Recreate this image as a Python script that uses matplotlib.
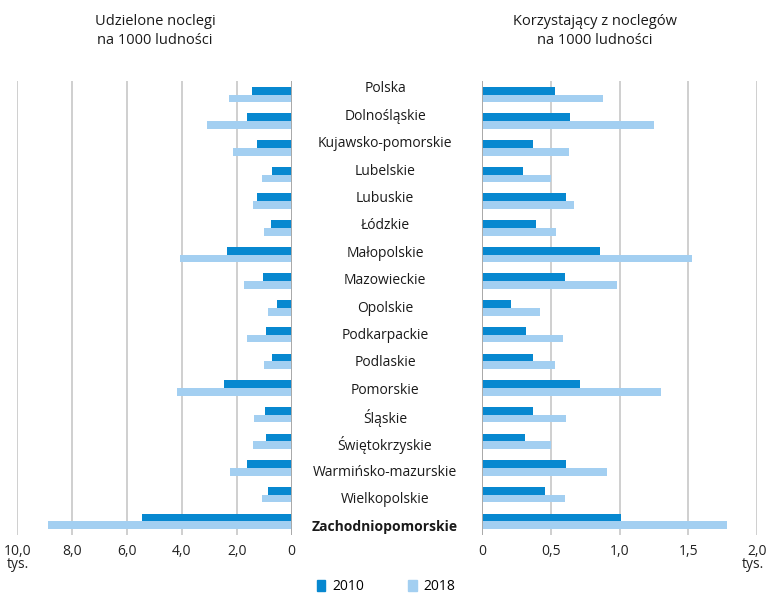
import matplotlib
matplotlib.use("Agg")
import matplotlib.pyplot as plt
from matplotlib.patches import Rectangle

plt.rcParams['font.family'] = ['Open Sans', 'DejaVu Sans']

regions = ["Polska", "Dolnośląskie", "Kujawsko-pomorskie", "Lubelskie", "Lubuskie",
           "Łódzkie", "Małopolskie", "Mazowieckie", "Opolskie", "Podkarpackie",
           "Podlaskie", "Pomorskie", "Śląskie", "Świętokrzyskie",
           "Warmińsko-mazurskie", "Wielkopolskie", "Zachodniopomorskie"]

noclegi_2010 = [1.44, 1.64, 1.25, 0.72, 1.28, 0.75, 2.37, 1.03, 0.52, 0.95,
                0.73, 2.47, 0.97, 0.92, 1.64, 0.86, 5.45]
noclegi_2018 = [2.30, 3.10, 2.13, 1.07, 1.40, 1.02, 4.08, 1.73, 0.87, 1.64,
                1.01, 4.19, 1.37, 1.42, 2.24, 1.07, 8.87]

korzyst_2010 = [0.53, 0.64, 0.37, 0.30, 0.61, 0.39, 0.86, 0.60, 0.21, 0.32,
                0.37, 0.71, 0.37, 0.31, 0.61, 0.46, 1.01]
korzyst_2018 = [0.88, 1.25, 0.63, 0.50, 0.67, 0.54, 1.53, 0.98, 0.42, 0.59,
                0.53, 1.30, 0.61, 0.50, 0.91, 0.60, 1.78]

left_ticks = [10, 8, 6, 4, 2, 0]
left_ticklabels = ["10,0", "8,0", "6,0", "4,0", "2,0", "0"]
right_ticks = [0, 0.5, 1.0, 1.5, 2.0]
right_ticklabels = ["0", "0,5", "1,0", "1,5", "2,0"]
series_labels = ["2010", "2018"]

C_DARK = "#0788d0"
C_LIGHT = "#a3cff1"
GRID = "#cfcfcf"
AXIS = "#a8a8a8"

W, H = 766, 596
fig = plt.figure(figsize=(W / 100, H / 100), dpi=100)

def fx(px):
    return px / W

def fy(py):
    return 1 - py / H

top_px, bot_px = 81.2, 534.6
axL = fig.add_axes([fx(17.3), fy(bot_px), fx(291.7 - 17.3), (bot_px - top_px) / H])
axR = fig.add_axes([fx(482.3), fy(bot_px), fx(756.7 - 482.3), (bot_px - top_px) / H])

y = list(range(len(regions)))
h = 0.29
y_dark = [v - 0.145 for v in y]
y_light = [v + 0.145 for v in y]

for ax, d10, d18, xlim, ticks in [
        (axL, noclegi_2010, noclegi_2018, (10, 0), left_ticks),
        (axR, korzyst_2010, korzyst_2018, (0, 2.0), right_ticks)]:
    for t in ticks:
        if t != 0:
            ax.axvline(t, color=GRID, lw=1.4, zorder=0)
    ax.axvline(0, color=AXIS, lw=1.4, zorder=3)
    ax.barh(y_dark, d10, height=h, color=C_DARK, zorder=2)
    ax.barh(y_light, d18, height=h, color=C_LIGHT, zorder=2)
    ax.set_xlim(*xlim)
    ax.set_ylim(len(regions) - 0.5, -0.5)
    ax.set_yticks([])
    ax.set_xticks([])
    for s in ax.spines.values():
        s.set_visible(False)
    ax.patch.set_alpha(0)

# tick labels
for t, lab in zip(left_ticks, left_ticklabels):
    axL.annotate(lab, xy=(t, 0), xycoords=axL.get_xaxis_transform(),
                 xytext=(0, -12), textcoords="offset points",
                 ha="center", va="center", fontsize=10, color="#222222")
for t, lab in zip(right_ticks, right_ticklabels):
    axR.annotate(lab, xy=(t, 0), xycoords=axR.get_xaxis_transform(),
                 xytext=(0, -12), textcoords="offset points",
                 ha="center", va="center", fontsize=10, color="#222222")
fig.text(fx(7), fy(565), "tys.", ha="left", va="center", fontsize=10, color="#222222")
fig.text(fx(764), fy(565), "tys.", ha="right", va="center", fontsize=10, color="#222222")

# category labels in the middle
axM = fig.add_axes([fx(300), fy(527 + 13.7), fx(470 - 300), (438 + 27.4) / H])
axM.set_xlim(0, 1)
axM.set_ylim(len(regions) - 0.5, -0.5)
axM.axis("off")
for i, r in enumerate(regions):
    bold = (r == "Zachodniopomorskie")
    axM.text(0.5, i, r, ha="center", va="center", fontsize=10,
             fontweight="bold" if bold else "normal", color="#1a1a1a")

# titles
fig.text(fx(155), fy(31), "Udzielone noclegi\nna 1000 ludności", ha="center",
         va="center", fontsize=10.5, linespacing=1.35, color="#1a1a1a")
fig.text(fx(595), fy(31), "Korzystający z noclegów\nna 1000 ludności", ha="center",
         va="center", fontsize=10.5, linespacing=1.35, color="#1a1a1a")

# legend
handles = [Rectangle((0, 0), 1, 1, color=C_DARK), Rectangle((0, 0), 1, 1, color=C_LIGHT)]
fig.legend(handles, series_labels, loc="center", bbox_to_anchor=(fx(386), fy(587)),
           ncol=2, frameon=False, fontsize=10, handlelength=0.6, handleheight=0.9,
           handletextpad=0.5, columnspacing=3.2)

fig.savefig("out.png", dpi=100)
